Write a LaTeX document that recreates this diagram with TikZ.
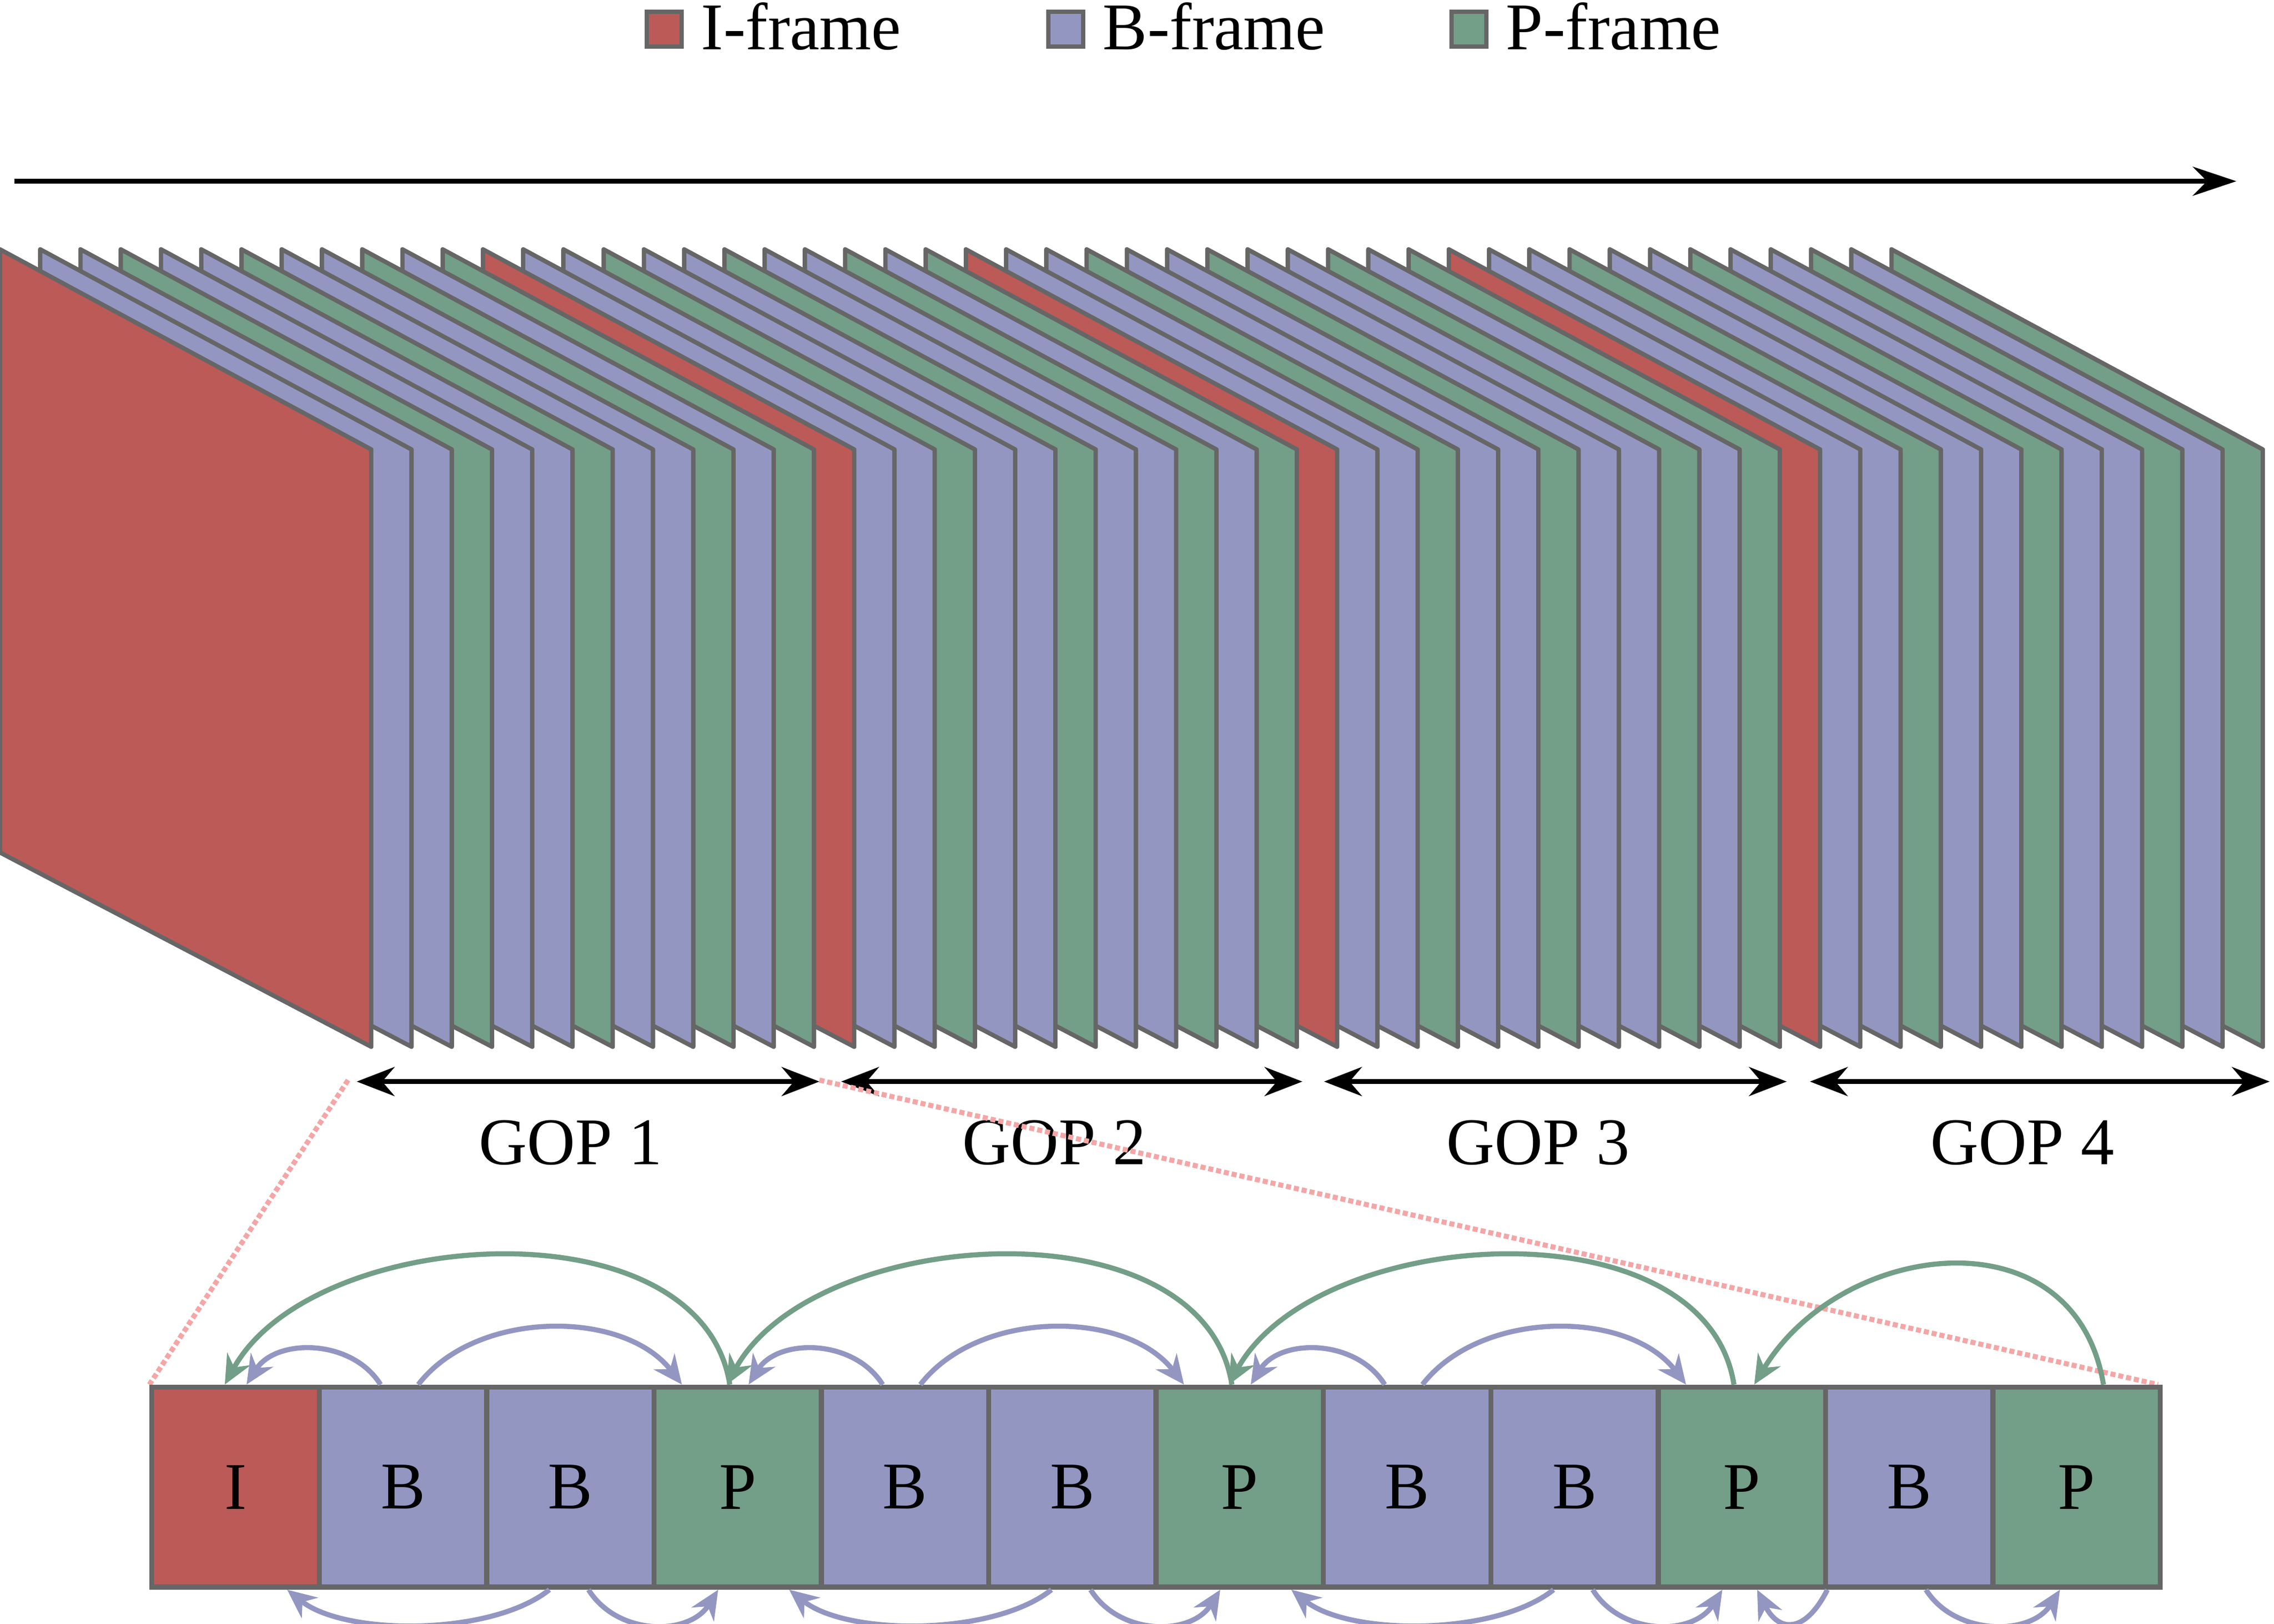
\documentclass[tikz,border=0pt]{standalone}
\usepackage{fontspec}
\setmainfont{Liberation Serif}
\usetikzlibrary{arrows.meta,calc}
\definecolor{fr}{HTML}{BC5A58}
\definecolor{fb}{HTML}{9496C2}
\definecolor{fg}{HTML}{739E88}
\definecolor{ol}{HTML}{666666}
\definecolor{pk}{HTML}{F4A6A6}
\begin{document}
\begin{tikzpicture}[x=1pt,y=-1pt,
  frame/.style={draw=ol,line width=3pt,line join=round},
  box/.style={draw=ol,line width=3.5pt,minimum width=115.4pt,minimum height=138pt,inner sep=0pt,anchor=north west,font=\fontsize{46}{54}\selectfont},
  tarr/.style={line width=3.5pt,-{Stealth[length=30pt,width=20pt]}},
  darr/.style={line width=3.5pt,{Stealth[length=26pt,width=20pt]}-{Stealth[length=26pt,width=20pt]}},
  garc/.style={draw=fg,line width=3.5pt,-{Stealth[length=20pt,width=18pt]}},
  barc/.style={draw=fb,line width=3.5pt,-{Stealth[length=20pt,width=18pt]}},
  lbl/.style={font=\fontsize{46}{54}\selectfont}]
\useasboundingbox (0,0) rectangle (1568,1120);
% legend
\node[draw=ol,fill=fr,line width=3pt,minimum size=24pt,inner sep=0pt] (l1) at (458,20) {};
\node[lbl,anchor=west] (t1) at (480,18) {I-frame};
\node[draw=ol,fill=fb,line width=3pt,minimum size=24pt,inner sep=0pt] (l2) at (735,20) {};
\node[lbl,anchor=west] (t2) at (757,18) {B-frame};
\node[draw=ol,fill=fg,line width=3pt,minimum size=24pt,inner sep=0pt] (l3) at (1013,20) {};
\node[lbl,anchor=west] (t3) at (1035,18) {P-frame};
% time arrow
\coordinate (ta) at (10,125); \coordinate (tb) at (1542,125);
\draw[tarr] (ta) -- (tb);
% frames
\foreach \i in {47,46,...,0}{
  \pgfmathtruncatemacro{\m}{mod(\i,12)}
  \ifnum\m=0 \def\c{fr}\else
  \ifnum\m=3 \def\c{fg}\else\ifnum\m=6 \def\c{fg}\else\ifnum\m=9 \def\c{fg}\else\ifnum\m=11 \def\c{fg}\else\def\c{fb}\fi\fi\fi\fi\fi
  \pgfmathsetmacro{\xx}{27.75*\i}
  \draw[frame,fill=\c] (\xx,172) -- (\xx+256,310) -- (\xx+256,722) -- (\xx,588) -- cycle;
}
% GOP arrows
\foreach \a/\b/\n in {246/565/1,580/898/2,913/1232/3,1248/1565/4}{
  \coordinate (ga\n) at (\a,746); \coordinate (gb\n) at (\b,746);
  \draw[darr] (ga\n) -- (gb\n);
  \node[lbl] (gl\n) at ({(\a+\b)/2-12},788) {GOP \n};
}
% pink dotted
\coordinate (p1) at (240,745); \coordinate (p2) at (565,745);
\coordinate (q1) at (103,955); \coordinate (q2) at (1488,955);
\draw[pk,line width=3.5pt,dotted] (p1) -- (q1);
\draw[pk,line width=3.5pt,dotted] (p2) -- (q2);
% boxes
\foreach \k/\t/\c in {0/I/fr,1/B/fb,2/B/fb,3/P/fg,4/B/fb,5/B/fb,6/P/fg,7/B/fb,8/B/fb,9/P/fg,10/B/fb,11/P/fg}{
  \node[box,fill=\c] (b\k) at ({103+115.4*\k},955) {\raisebox{-4pt}{\t}};
}
% arcs
\foreach \a/\p/\q/\n in {0/1/2/3,3/4/5/6,6/7/8/9}{
  \draw[garc] ($(b\n.north west)+(54,0)$) .. controls +(-20,-127) and +(60,-110) .. ($(b\a.north west)+(52,0)$);
  \draw[barc] ($(b\p.north west)+(44,0)$) .. controls +(-20,-32) and +(20,-32) .. ($(b\a.north west)+(67,0)$);
  \draw[barc] ($(b\p.north west)+(70,0)$) .. controls +(40,-52) and +(-40,-52) .. ($(b\n.north west)+(21,0)$);
  \draw[barc] ($(b\q.south west)+(45,0)$) .. controls +(-40,32) and +(40,32) .. ($(b\a.south west)+(95,0)$);
  \draw[barc] ($(b\q.south west)+(72,0)$) .. controls +(20,32) and +(-20,32) .. ($(b\n.south west)+(46,0)$);
}
\draw[garc] ($(b11.north west)+(78,0)$) .. controls +(-20,-120) and +(60,-100) .. ($(b9.north west)+(68,0)$);
\draw[barc] ($(b10.south west)+(3,0)$) .. controls +(-15,30) and +(15,30) .. ($(b9.south west)+(70,0)$);
\draw[barc] ($(b10.south west)+(71,0)$) .. controls +(20,32) and +(-20,32) .. ($(b11.south west)+(48,0)$);
\end{tikzpicture}
\end{document}
